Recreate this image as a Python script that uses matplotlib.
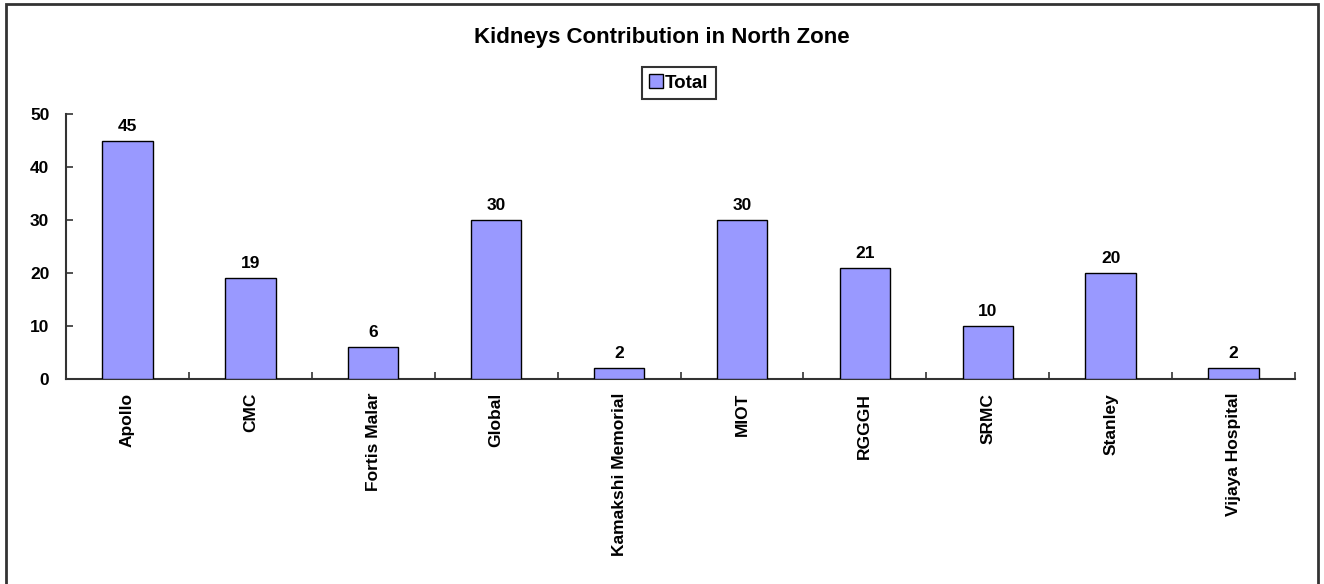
import matplotlib
matplotlib.use("Agg")
import matplotlib.pyplot as plt
from matplotlib.patches import Rectangle
import numpy as np

categories = ["Apollo", "CMC", "Fortis Malar", "Global", "Kamakshi Memorial",
              "MIOT", "RGGGH", "SRMC", "Stanley", "Vijaya Hospital"]
totals = [45, 19, 6, 30, 2, 30, 21, 10, 20, 2]
yticks = [0, 10, 20, 30, 40, 50]
title = "Kidneys Contribution in North Zone"
series_name = "Total"

plt.rcParams['font.family'] = ['Liberation Sans', 'DejaVu Sans']
plt.rcParams['font.weight'] = 'bold'

fig = plt.figure(figsize=(13.24, 5.84), dpi=100)
W, H = 1324, 584
ax = fig.add_axes([66 / W, 1 - 379 / H, (1295 - 66) / W, (379 - 114) / H])

x = np.arange(len(categories))
bars = ax.bar(x, totals, width=0.41, color='#9999FF', edgecolor='black',
              linewidth=1.0, label=series_name, zorder=3)
for xi, v in zip(x, totals):
    ax.annotate(str(v), (xi, v), xytext=(0, 5), textcoords='offset points',
                ha='center', va='bottom', fontsize=12.5, fontweight='bold')

ax.set_xlim(-0.5, len(categories) - 0.5)
ax.set_ylim(0, 50)
ax.set_yticks(yticks)
ax.set_yticklabels([str(t) for t in yticks], fontsize=12.5, fontweight='bold')
ax.tick_params(axis='y', direction='in', length=5, width=1.2, pad=12, color='#333333')

ax.set_xticks(x)
ax.set_xticklabels(categories, rotation=90, fontsize=12.5, fontweight='bold', va='top')
ax.tick_params(axis='x', which='major', length=0, pad=10)
ax.set_xticks(np.arange(len(categories) + 1) - 0.5, minor=True)
ax.tick_params(axis='x', which='minor', direction='in', length=5, width=1.2, color='#333333')

for s in ['top', 'right']:
    ax.spines[s].set_visible(False)
for s in ['left', 'bottom']:
    ax.spines[s].set_color('#333333')
    ax.spines[s].set_linewidth(1.5)

fig.text(0.5, 1 - 37 / H, title, ha='center', va='center', fontsize=16, fontweight='bold')

leg = fig.legend(loc='center', bbox_to_anchor=(679 / W, 1 - 83 / H), fontsize=13.5,
                 frameon=True, fancybox=False, edgecolor='black', handlelength=0.75,
                 handleheight=0.75, handletextpad=0.1, borderpad=0.4, borderaxespad=0)
leg.get_frame().set_linewidth(1.5)

border = Rectangle((5.5 / W, -0.1), (1318 - 5.5) / W, 1.1 - 4 / H + 0.0,
                   transform=fig.transFigure, fill=False, edgecolor='#333333',
                   linewidth=2, zorder=10)
fig.patches.append(border)

fig.savefig("out.png", dpi=100)
